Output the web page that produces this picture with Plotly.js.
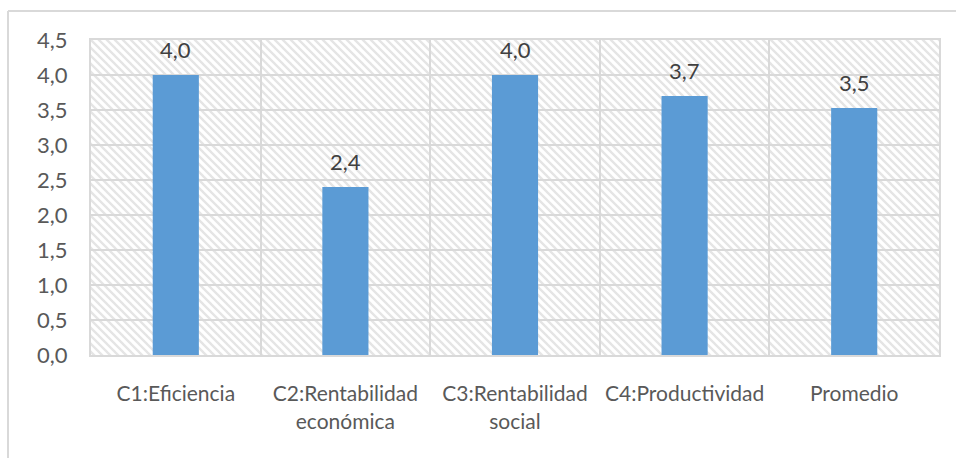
<!DOCTYPE html>
<html>
<head>
<meta charset="utf-8">
<script src="https://cdn.plot.ly/plotly-3.0.1.min.js"></script>
<style>
html,body{margin:0;padding:0;background:#fff;}
#chart{width:956px;height:458px;}
</style>
</head>
<body>
<div id="chart"></div>
<script>
const categories = ["C1:Eficiencia", "C2:Rentabilidad económica", "C3:Rentabilidad social", "C4:Productividad", "Promedio"];
const values = [4.0, 2.4, 4.0, 3.7, 3.53];
const yTicks = [0, 0.5, 1, 1.5, 2, 2.5, 3, 3.5, 4, 4.5];

const tickText = categories.map(c => c.replace(' ', '<br>'));
const labelText = values.map(v => v.toFixed(1).replace('.', ','));

const W = 848, H = 315;
const svg = `<svg xmlns="http://www.w3.org/2000/svg" width="${W}" height="${H}" viewBox="0 0 ${W} ${H}">
<defs><pattern id="p" patternUnits="userSpaceOnUse" width="8" height="8">
<path d="M-2,-2 L10,10 M-2,6 L2,10 M6,-2 L10,2" stroke="#e5e5e5" stroke-width="2.4"/>
</pattern></defs>
<rect width="${W}" height="${H}" fill="#ffffff"/>
<rect width="${W}" height="${H}" fill="url(#p)"/>
</svg>`;
const bgUri = 'data:image/svg+xml;base64,' + btoa(svg);

const fontFam = 'Lato, sans-serif';
const numSize = 22;
const catSize = 21;

const trace = {
  type: 'bar',
  x: categories,
  y: values,
  marker: {color: '#5B9BD5'},
  cliponaxis: false,
  hoverinfo: 'none'
};

const annotations = categories.map((c, i) => ({
  x: c, y: values[i], xref: 'x', yref: 'y',
  text: labelText[i],
  showarrow: false,
  yanchor: 'bottom',
  yshift: 10,
  font: {family: fontFam, size: numSize, color: '#404040'}
}));

const layout = {
  width: 956,
  height: 458,
  margin: {l: 91, r: 17, t: 40, b: 103},
  paper_bgcolor: '#ffffff',
  plot_bgcolor: 'rgba(0,0,0,0)',
  separators: ',.',
  bargap: 0.728,
  showlegend: false,
  font: {family: fontFam, size: catSize, color: '#595959'},
  xaxis: {
    type: 'category',
    tickvals: categories,
    ticktext: tickText,
    tickson: 'boundaries',
    showgrid: true,
    gridcolor: '#d9d9d9',
    gridwidth: 2,
    showline: true,
    linecolor: '#d9d9d9',
    linewidth: 2,
    mirror: true,
    ticks: '',
    ticklabelstandoff: 19,
    tickfont: {family: fontFam, size: catSize, color: '#595959'}
  },
  yaxis: {
    range: [0, 4.5],
    tickvals: yTicks,
    tickformat: '.1f',
    showgrid: true,
    gridcolor: '#d9d9d9',
    gridwidth: 2,
    zeroline: false,
    showline: true,
    linecolor: '#d9d9d9',
    linewidth: 2,
    mirror: true,
    ticks: '',
    ticklabelstandoff: 17,
    tickfont: {family: fontFam, size: numSize, color: '#595959'}
  },
  annotations: annotations,
  images: [{
    source: bgUri,
    xref: 'paper', yref: 'paper',
    x: 0, y: 1, sizex: 1, sizey: 1,
    xanchor: 'left', yanchor: 'top',
    sizing: 'stretch',
    layer: 'below'
  }],
  shapes: [
    {type: 'line', xref: 'paper', yref: 'paper', x0: -0.0979, x1: 1.1, y0: 1.092, y1: 1.092, line: {color: '#d9d9d9', width: 2}},
    {type: 'line', xref: 'paper', yref: 'paper', x0: -0.0979, x1: -0.0979, y0: 1.092, y1: -0.4, line: {color: '#d9d9d9', width: 2}}
  ]
};

Plotly.newPlot('chart', [trace], layout, {displayModeBar: false, staticPlot: true});
</script>
</body>
</html>
